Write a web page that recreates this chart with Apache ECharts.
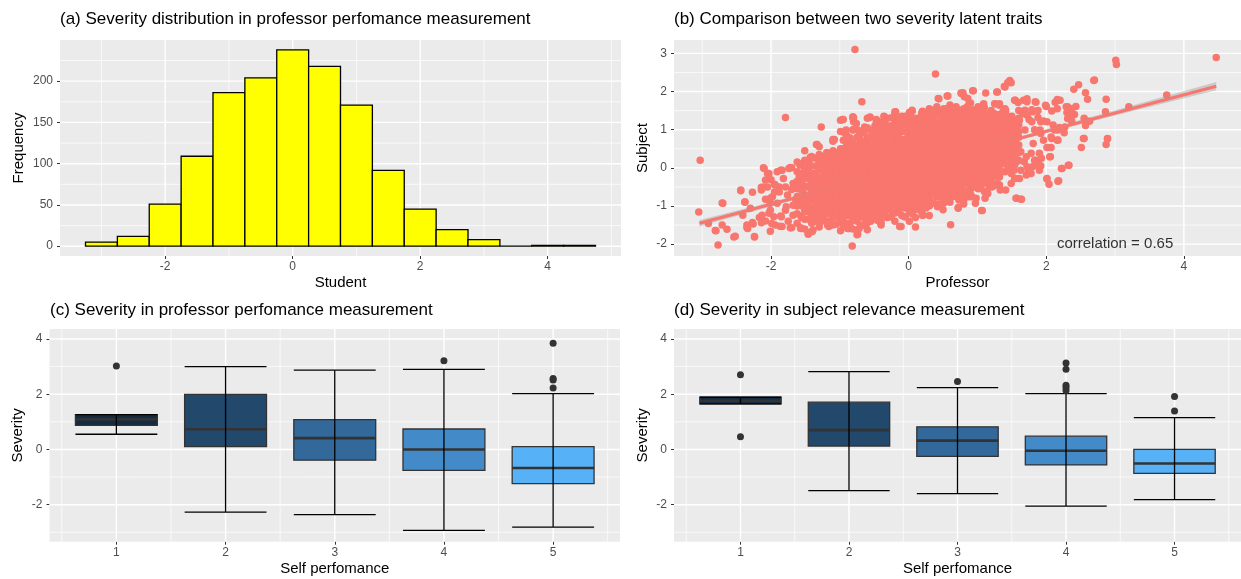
<!DOCTYPE html>
<html><head><meta charset="utf-8">
<script src="https://cdn.jsdelivr.net/npm/echarts@6/dist/echarts.min.js"></script>
<style>html,body{margin:0;padding:0;background:#fff}#c{width:1241px;height:579px}</style>
</head><body><div id="c"></div>
<script>
// ---------------- DATA ----------------
// (a) histogram
const histCenters = [-3,-2.5,-2,-1.5,-1,-0.5,0,0.5,1,1.5,2,2.5,3,3.5,4,4.5];
const histCounts  = [5,12,51,109,186,204,238,218,171,92,45,20,8,0,1,1];
const histBinWidth = 0.5;

// (b) scatter: professor (x) vs subject (y)
const scatterEdge = [
[-0.78,3.10],[-3.03,0.20],[-3.05,-1.16],[-2.77,-2.02],[-2.81,-1.64],[-2.91,-1.46],[-2.71,-0.92],[-2.64,-1.61],[-2.54,-1.81],[-2.44,-0.60],
[-2.38,-0.90],[-2.41,-1.24],[-2.35,-1.56],[-2.24,-1.81],[-2.27,-1.43],[-2.17,-1.30],[-2.01,-1.66],[-2.11,0],[-2.05,-0.15],[-1.79,1.32],
[-1.27,1.07],[-1.10,0.74],[-0.68,1.73],[-0.82,-2.05],[-0.75,-1.75],[-0.13,-1.54],[0.10,-1.55],[0.61,-1.49],[1.06,-1.12],[0.39,2.46],
[1.47,2.29],[1.49,2.23],[1.39,2.13],[3.01,2.82],[3.02,2.71],[4.47,2.89],[3.75,1.91],[2.69,2.29],[2.47,2.18],[2.40,2.06],
[2.57,1.97],[2.60,1.80],[2.87,1.80],[2.86,1.47],[3.20,1.60],[2.89,0.77],[2.87,0.61],[2.51,0.53],[2.54,0.77],[2.32,0.07],
[2.23,-0.02],[2.17,-0.35],[2.04,-0.43],[2.01,-0.29],[2.06,0.29],[1.64,-0.82],[1.57,-0.80],[1.54,-0.27],[2.27,1.07],[2.31,1.29],
[2.56,1.25],[2.43,1.61],[2.29,1.60],[2.16,1.79],[2.00,1.61],[1.84,1.73],[1.67,1.77],[1.55,1.77],[1.26,1.68],[1.29,1.99],
[1.12,1.96],[0.93,2.02],[0.79,1.97],[0.86,1.82],[0.56,1.88],[0.43,1.82],[0.51,1.55],[0.40,1.51],[0.20,1.48],[0.05,1.51],
[0.02,1.42],[-0.20,1.47],[-0.36,1.35],[-0.57,1.32],[-0.81,1.34],[-0.96,1.27],[-0.81,0.99],[-1.34,0.61],[-1.43,0.28],[-1.72,0.01],
[-1.84,-0.06],[-2.0,-0.31],[-2.05,-0.50],[-2.14,-0.58],[-2.01,-0.80],[-2.01,-1.11],[-1.94,-1.50],[-1.85,-1.28],[-1.72,-1.57],[-1.57,-1.59],
[-1.46,-1.70],[-1.39,-1.63],[-1.16,-1.54],[-0.87,-1.59],[-0.61,-1.46],[-0.41,-1.44],[-0.24,-1.15],[0.21,-1.24],[0.42,-1.02],[0.72,-1.06],
[0.80,-0.85],[1.15,-0.67],[1.32,-0.45],[1.32,-0.24],[1.53,-0.06],[1.72,0.03],[1.90,0.07],[1.84,0.20],[1.78,0.38],[2.07,0.53],
[2.01,0.53],[2.26,0.92],[2.17,0.99],[2.10,1.12],[1.91,0.99],[1.96,1.23],[1.80,1.47],[1.69,1.51],[1.75,1.27],[1.61,1.25],
[2.70,2.30],[2.55,1.30],[2.57,1.11],[2.63,1.22],[2.55,0.77],[2.89,0.76],[1.44,2.23],[1.40,2.12],[0.94,2.02],[1.28,1.99],
[0.76,1.96],[0.81,1.86],[0.88,1.68],[1.09,1.68],[1.25,1.68],[1.32,1.64],[1.54,1.77],[1.59,1.71],[1.72,1.81],[1.72,1.73],
[1.85,1.72],[1.99,1.64],[2.13,1.72],[2.20,1.77],[2.31,1.60],[2.37,1.55],[2.30,1.45],[2.38,1.38],[2.16,1.55],[2.08,1.49],
[1.88,1.50],[1.79,1.52],[1.66,1.42],[1.72,1.38],[1.37,1.47],[1.42,1.38],[1.54,1.25],[1.15,1.34],[1.27,1.29],[1.03,1.38],
[2.01,1.21],[2.12,0.99],[2.19,1.06],[2.37,1.22],[2.41,1.40],[1.79,1.21],[1.88,1.32],[1.92,1.21],[1.69,0.99],[1.83,1.00],
[1.92,0.90],[2.08,0.77],[2.17,0.73],[1.57,0.81],[1.44,0.94],[1.34,1.09],
[2.05,0.29],[2.33,0.07],[2.22,-0.02],[2.01,-0.28],[2.18,-0.34],[1.87,0.09],[1.92,0.05],[1.80,0.03],[1.74,-0.06],[1.68,0.16],
[1.58,0.17],[1.54,0.07],[1.55,-0.28],[1.71,-0.19],[1.63,-0.06],[1.56,-0.80],[1.63,-0.82],[1.44,0.25],[1.40,0.33],[1.37,0.16],
[1.46,0.0],[1.49,-0.15],[1.33,-0.58],[1.29,-0.41],[1.24,-0.47],[1.17,-0.50],[1.15,-0.37],[1.11,-0.80],[1.07,-1.12],[0.95,-0.45],
[0.91,-0.54],[0.86,-0.71],[0.80,-0.67],[0.73,-0.84],[0.72,-1.04],[0.98,-0.80],[0.88,-0.76],[0.71,-0.45],[0.76,-0.28],[1.22,-0.19],
[1.29,-0.10],[1.12,-0.02],[1.2,0.07],[1.08,0.25],[1.00,0.12],[0.95,-0.06],[0.86,-0.15],[1.54,0.33],[1.63,0.42],[1.71,0.29],
[1.83,0.20],[1.93,0.25],[1.29,0.42],[1.39,0.51],[1.49,0.46],
[-2.80,-1.65],[-2.71,-1.50],[-2.70,-0.93],[-2.52,-1.79],[-2.44,-0.58],[-2.38,-0.89],[-2.34,-1.59],[-2.24,-1.80],[-2.35,-1.50],[-2.27,-0.64],
[-2.30,-1.06],[-2.26,-1.47],[-2.14,-1.44],[-2.08,-1.39],[-2.13,-1.24],[-2.03,-1.19],[-2.14,-0.51],[-2.10,-0.50],[-2.08,-0.32],[-2.10,-0.02],
[-2.03,-0.15],[-2.08,-0.82],[-2.01,-0.93],[-1.98,-0.76],[-1.95,-0.43],[-1.88,-0.50],[-1.95,-0.63],[-1.91,-0.10],[-1.86,-0.06],[-1.82,-0.28],
[-1.74,-0.02],[-1.70,0.0],[-1.58,0.07],[-1.96,-1.28],[-1.99,-1.46],[-1.86,-1.26],[-1.87,-1.53],[-1.75,-1.40],[-1.70,-1.57],[-1.57,-1.57],
[-1.84,-1.54],[-1.46,-1.74],[-1.40,-1.67],[-1.68,-1.24],[-1.56,-1.26],[-1.47,-1.15],[-1.76,-0.71],[-1.64,-0.84],[-1.56,-0.96],[-1.78,-1.02],
[-1.67,-0.50],[-1.59,-0.50],[-1.47,-0.50],[-1.43,-0.28],[-1.42,0.25],[-1.45,0.07],[-1.37,-0.15],[-1.28,0.20],[-1.23,-0.02],[-1.13,0.23],
[-1.08,0.07],[-1.37,-0.71],[-1.33,-0.93],[-1.25,-1.15],[-1.28,-1.41],[-1.18,-1.50],[-1.13,-0.36],[-1.03,-0.54],[-1.08,-0.98],[-0.99,-1.15],
[-0.94,-1.50],[-0.89,-1.59],[-0.74,-1.74],[-0.72,-1.59],[-0.65,-1.50],[-0.79,-1.33],[-0.70,-1.19],[-0.50,-1.24],[-0.40,-1.41],[-0.11,-1.54],
[0.20,-1.24],[0.28,-0.93],[0.06,-1.15],[-0.02,-1.02],[-0.24,-1.11],[-0.21,-0.93],[0.75,-0.80],[0.51,-0.84],[0.61,-0.62],
[-0.99,0.33],[-1.10,0.20],[-1.22,0.24],[-1.33,0.03],[-1.51,-0.15],[-1.59,-0.24],[-1.68,-0.41],[-1.79,-0.50],[-1.88,-0.63],[-1.94,-0.45],
[-1.70,-0.57],[-0.91,0.99],[-0.76,1.16],[-0.64,1.07],[-0.47,1.20],[-0.41,0.99],[-0.18,1.25],[-0.06,1.12],[0.08,1.25],[0.22,1.34],
[0.34,1.2],[0.63,1.42],[0.74,1.51],[0.97,1.42],[1.21,1.38],[1.41,1.51],[1.32,1.68],[0.97,-0.93],[0.92,-0.76],[1.21,-0.50],
[1.41,-0.58],[1.49,-0.41],[1.61,-0.28],[1.78,-0.15],[1.90,-0.06],[1.90,0.38],[1.81,0.64],[1.96,0.72],[2.07,0.81],[2.16,0.72],
[-0.58,-1.28],[-0.47,-1.15],[-0.06,-1.28],[0.05,-1.11],[0.34,-0.93],[0.51,-0.93],[0.63,-0.76],[0.22,-0.76],[-0.99,-1.37],[-0.76,-1.24],
[-1.33,-1.28],[-1.56,-1.28],[-1.51,-1.11],[-1.68,-0.98],[-1.79,-1.11],[-1.91,-0.93],[-1.45,-0.85],[-1.22,-0.58],
[-1.33,0.61],[-1.08,0.74],[-0.95,1.27],[-0.80,1.31],[-0.80,1.21],[-0.92,0.90],[-0.89,0.65],[-0.74,0.99],[-0.72,0.83],[-0.56,1.33],
[-0.47,1.27],[-0.35,1.33],[-0.40,1.09],[-0.28,1.06],[-0.19,1.47],[-0.19,1.38],[-0.03,1.23],[0.05,1.48],[0.19,1.44],[0.18,1.32],
[0.33,1.34],[0.41,1.53],[0.44,1.81],[0.57,1.88],[0.51,1.51],[0.62,1.55],[0.77,1.94],[-0.50,0.90],[-0.40,0.94],[-0.28,0.86],
[-0.16,0.99],[-0.06,1.16],[0.04,0.94],[0.14,1.07],[0.28,1.12],[0.43,1.16],[0.57,1.25],[0.72,1.29],[-0.71,0.59],[-0.61,0.72],[-0.52,0.81]
];
// dense central cloud, read column by column
const coreX = [-1.62,-1.51,-1.41,-1.3,-1.19,-1.1,-0.99,-0.9,-0.81,-0.7,-0.6,-0.49,-0.4,-0.31,-0.2,-0.1,0.01,0.1,0.19,0.3,0.41,0.5,0.6,0.69,0.8,0.9,1.01,1.1,1.2,1.31,1.4,1.5,1.6];
const coreY = [
[-1.45,-1.2,-1.0,-0.75,-0.55,-0.35,-0.1,0.15],
[-1.6,-1.35,-1.1,-0.9,-0.7,-0.48,-0.25,-0.05,0.2,0.45],
[-1.45,-1.25,-1.05,-0.85,-0.62,-0.4,-0.2,0.05,0.3],
[-1.55,-1.3,-1.12,-0.95,-0.78,-0.6,-0.42,-0.25,-0.05,0.12,0.35,0.55],
[-1.4,-1.2,-1.02,-0.85,-0.68,-0.5,-0.32,-0.15,0.02,0.22,0.4],
[-1.5,-1.3,-1.12,-0.96,-0.8,-0.62,-0.45,-0.28,-0.1,0.08,0.25,0.45,0.7],
[-1.65,-1.38,-1.2,-1.02,-0.86,-0.7,-0.54,-0.38,-0.2,-0.04,0.12,0.3,0.5,0.95,1.25],
[-1.45,-1.25,-1.08,-0.92,-0.76,-0.6,-0.44,-0.28,-0.12,0.05,0.22,0.4,0.6,0.85],
[-1.6,-1.35,-1.16,-1.0,-0.84,-0.68,-0.52,-0.36,-0.2,-0.04,0.12,0.28,0.45,0.65,1.0,1.3],
[-1.5,-1.28,-1.1,-0.94,-0.78,-0.62,-0.46,-0.3,-0.14,0.02,0.18,0.34,0.5,0.7,0.92],
[-1.62,-1.4,-1.2,-1.02,-0.86,-0.7,-0.54,-0.38,-0.22,-0.06,0.1,0.26,0.42,0.6,0.8,1.05,1.3],
[-1.3,-1.12,-0.96,-0.8,-0.64,-0.48,-0.32,-0.16,0.0,0.16,0.32,0.48,0.66,0.85,1.1],
[-1.5,-1.25,-1.06,-0.9,-0.74,-0.58,-0.42,-0.26,-0.1,0.06,0.22,0.38,0.54,0.72,0.95,1.2],
[-1.3,-1.1,-0.94,-0.78,-0.62,-0.46,-0.3,-0.14,0.02,0.18,0.34,0.5,0.68,0.88,1.1,1.3],
[-1.4,-1.18,-1.0,-0.84,-0.68,-0.52,-0.36,-0.2,-0.04,0.12,0.28,0.44,0.6,0.78,1.0,1.2,1.42],
[-1.25,-1.05,-0.88,-0.72,-0.56,-0.4,-0.24,-0.08,0.08,0.24,0.4,0.56,0.74,0.95,1.15,1.35],
[-1.4,-1.15,-0.95,-0.78,-0.62,-0.46,-0.3,-0.14,0.02,0.18,0.34,0.5,0.66,0.84,1.05,1.25,1.45],
[-1.3,-1.05,-0.85,-0.68,-0.52,-0.36,-0.2,-0.04,0.12,0.28,0.44,0.6,0.76,0.94,1.12,1.3],
[-1.15,-0.95,-0.78,-0.62,-0.46,-0.3,-0.14,0.02,0.18,0.34,0.5,0.66,0.82,1.0,1.2,1.4],
[-1.25,-1.0,-0.8,-0.64,-0.48,-0.32,-0.16,0.0,0.16,0.32,0.48,0.64,0.8,0.98,1.15,1.35,1.55],
[-0.95,-0.75,-0.58,-0.42,-0.26,-0.1,0.06,0.22,0.38,0.54,0.7,0.86,1.02,1.2,1.4,1.6],
[-1.1,-0.85,-0.66,-0.5,-0.34,-0.18,-0.02,0.14,0.3,0.46,0.62,0.78,0.94,1.1,1.28,1.48],
[-0.9,-0.7,-0.52,-0.36,-0.2,-0.04,0.12,0.28,0.44,0.6,0.76,0.92,1.08,1.25,1.45,1.65],
[-0.75,-0.55,-0.38,-0.22,-0.06,0.1,0.26,0.42,0.58,0.74,0.9,1.06,1.22,1.4,1.6],
[-0.95,-0.6,-0.42,-0.26,-0.1,0.06,0.22,0.38,0.54,0.7,0.86,1.02,1.18,1.36,1.55],
[-0.7,-0.48,-0.3,-0.14,0.02,0.18,0.34,0.5,0.66,0.82,0.98,1.14,1.3,1.48,1.7],
[-0.55,-0.36,-0.18,-0.02,0.14,0.3,0.46,0.62,0.78,0.94,1.1,1.26,1.42,1.6],
[-0.62,-0.4,-0.22,-0.05,0.12,0.28,0.44,0.6,0.76,0.92,1.08,1.24,1.4,1.58],
[-0.3,-0.12,0.05,0.22,0.38,0.54,0.7,0.86,1.02,1.18,1.34,1.5],
[-0.2,0.0,0.2,0.38,0.55,0.72,0.88,1.05,1.22,1.4],
[-0.1,0.1,0.3,0.48,0.65,0.82,1.0,1.18,1.35,1.55],
[0.05,0.25,0.45,0.62,0.8,0.98,1.15,1.35],
[0.2,0.4,0.6,0.8,0.95,1.12,1.3,1.5]
];
// second pass over the dense cloud, read between the columns above
const coreX2 = [-1.55,-1.45,-1.35,-1.25,-1.15,-1.05,-0.95,-0.85,-0.75,-0.65,-0.55,-0.45,-0.35,-0.25,-0.15,-0.05,0.05,0.15,0.25,0.35,0.45,0.55,0.65,0.75,0.85,0.95,1.05,1.15,1.25,1.35,1.45,1.55];
const coreY2 = [
[-1.3,-1.0,-0.8,-0.6,-0.37,-0.15,0.1],
[-1.35,-1.15,-0.95,-0.73,-0.5,-0.3,-0.08,0.18],
[-1.4,-1.2,-1.03,-0.86,-0.69,-0.51,-0.33,-0.15,0.05,0.25],
[-1.3,-1.11,-0.93,-0.76,-0.59,-0.41,-0.23,-0.06,0.12,0.3],
[-1.4,-1.21,-1.04,-0.88,-0.71,-0.53,-0.36,-0.19,-0.01,0.16,0.35],
[-1.48,-1.29,-1.11,-0.94,-0.78,-0.62,-0.46,-0.29,-0.12,0.04,0.21,0.4],
[-1.5,-1.3,-1.14,-1.0,-0.84,-0.68,-0.52,-0.36,-0.2,-0.04,0.13,0.31,0.5,0.72],
[-1.45,-1.26,-1.08,-0.92,-0.76,-0.6,-0.44,-0.28,-0.12,0.04,0.2,0.36,0.54,0.78],
[-1.4,-1.19,-1.02,-0.86,-0.7,-0.54,-0.38,-0.22,-0.06,0.1,0.26,0.42,0.6,0.8],
[-1.5,-1.3,-1.11,-0.94,-0.78,-0.62,-0.46,-0.3,-0.14,0.02,0.18,0.34,0.51,0.7,0.92],
[-1.4,-1.21,-1.04,-0.88,-0.72,-0.56,-0.4,-0.24,-0.08,0.08,0.24,0.4,0.57,0.76,0.98],
[-1.38,-1.16,-0.98,-0.82,-0.66,-0.5,-0.34,-0.18,-0.02,0.14,0.3,0.46,0.63,0.83,1.05],
[-1.2,-1.02,-0.86,-0.7,-0.54,-0.38,-0.22,-0.06,0.1,0.26,0.42,0.59,0.78,0.99,1.2],
[-1.29,-1.09,-0.92,-0.76,-0.6,-0.44,-0.28,-0.12,0.04,0.2,0.36,0.52,0.69,0.89,1.1,1.31],
[-1.15,-0.96,-0.8,-0.64,-0.48,-0.32,-0.16,0.0,0.16,0.32,0.48,0.65,0.84,1.05,1.25],
[-1.28,-1.05,-0.87,-0.7,-0.54,-0.38,-0.22,-0.06,0.1,0.26,0.42,0.58,0.75,0.94,1.15,1.35],
[-1.2,-0.95,-0.77,-0.6,-0.44,-0.28,-0.12,0.04,0.2,0.36,0.52,0.68,0.85,1.03,1.21],
[-1.1,-0.9,-0.7,-0.54,-0.38,-0.22,-0.06,0.1,0.26,0.42,0.58,0.74,0.91,1.1,1.3],
[-1.05,-0.87,-0.7,-0.54,-0.38,-0.22,-0.06,0.1,0.26,0.42,0.58,0.74,0.9,1.08,1.26,1.45],
[-0.9,-0.7,-0.5,-0.34,-0.18,-0.02,0.14,0.3,0.46,0.62,0.78,0.94,1.1,1.3,1.5],
[-0.95,-0.75,-0.58,-0.42,-0.26,-0.1,0.06,0.22,0.38,0.54,0.7,0.86,1.02,1.2,1.38],
[-0.8,-0.6,-0.43,-0.27,-0.11,0.05,0.21,0.37,0.53,0.69,0.85,1.01,1.18,1.36,1.55],
[-0.65,-0.46,-0.3,-0.14,0.02,0.18,0.34,0.5,0.66,0.82,0.98,1.14,1.32,1.52],
[-0.68,-0.5,-0.34,-0.18,-0.02,0.14,0.3,0.46,0.62,0.78,0.94,1.1,1.28,1.47],
[-0.6,-0.4,-0.22,-0.06,0.1,0.26,0.42,0.58,0.74,0.9,1.06,1.22,1.4,1.6],
[-0.45,-0.27,-0.1,0.06,0.22,0.38,0.54,0.7,0.86,1.02,1.18,1.34,1.52],
[-0.48,-0.3,-0.13,0.04,0.2,0.36,0.52,0.68,0.84,1.0,1.16,1.32,1.5],
[-0.2,-0.03,0.14,0.3,0.46,0.62,0.78,0.94,1.1,1.26,1.42],
[-0.22,-0.04,0.13,0.3,0.46,0.62,0.78,0.94,1.1,1.26,1.42],
[-0.1,0.1,0.29,0.46,0.63,0.8,0.96,1.13,1.3],
[0.0,0.2,0.39,0.56,0.73,0.9,1.08,1.26],
[0.15,0.35,0.53,0.7,0.88,1.05,1.22]
];
// fitted linear trend with its confidence band
const fitLine = [[-3.04,-1.45],[4.47,2.14]];
const bandX  = [-3.04,-2,-1,0,1,2,3,4.47];
const bandLo = [-1.535,-1.012,-0.513,-0.024,0.45,0.913,1.372,2.03];
const bandHi = [-1.365,-0.892,-0.433,0.036,0.52,1.013,1.512,2.25];
const corrLabel = 'correlation = 0.65';
const corrPos = [3,-2];

// (c)/(d) boxplots by self performance: [lowWhisker, Q1, median, Q3, highWhisker]
const boxGroups = [1,2,3,4,5];
const profStats = [[0.55,0.87,1.09,1.26,1.26],[-2.27,0.10,0.73,1.99,3.00],[-2.36,-0.39,0.41,1.08,2.87],[-2.93,-0.76,0.00,0.74,2.90],[-2.81,-1.24,-0.67,0.10,2.02]];
const profOutliers = [[1,3.02],[4,3.21],[5,3.84],[5,2.57],[5,2.51],[5,2.22]];
const subjStats = [[1.65,1.65,1.76,1.89,1.89],[-1.49,0.12,0.70,1.71,2.82],[-1.60,-0.25,0.32,0.82,2.24],[-2.05,-0.56,-0.05,0.48,2.02],[-1.82,-0.87,-0.51,0.00,1.15]];
const subjOutliers = [[1,2.70],[1,0.46],[3,2.46],[4,3.13],[4,2.90],[4,2.32],[4,2.24],[4,2.13],[5,1.92],[5,1.39]];
const boxColors = ['#132B43','#22486B','#32699A','#438AC8','#56B1F7'];

// axis ticks
const aXTicks = [-2,0,2,4], aXMinor = [-3,-1,1,3,5];
const aYTicks = [0,50,100,150,200], aYMinor = [25,75,125,175,225];
const bXTicks = [-2,0,2,4], bXMinor = [-3,-1,1,3];
const bYTicks = [-2,-1,0,1,2,3], bYMinor = [-1.5,-0.5,0.5,1.5,2.5];
const cXTicks = [1,2,3,4,5], cXMinor = [0.5,1.5,2.5,3.5,4.5,5.5];
const cYTicks = [-2,0,2,4], cYMinor = [-3,-1,1,3];

// ---------------- CHART ----------------
const FONT = '"Liberation Sans", Arial, Helvetica, sans-serif';
const ranges = [
  {x:[-3.65,5.15], y:[-11.9,249.9]},
  {x:[-3.41,4.83], y:[-2.31,3.35]},
  {x:[0.3875,5.6125], y:[-3.34,4.36]},
  {x:[0.3875,5.6125], y:[-3.34,4.36]}
];
const scatterData = scatterEdge.slice();
coreX.forEach((x,i)=>coreY[i].forEach(y=>scatterData.push([x,y])));
coreX2.forEach((x,i)=>coreY2[i].forEach(y=>scatterData.push([x,y])));

function axis(gi, r, ticks, name, gap, isY) {
  return {
    type:'value', gridIndex:gi, min:r[0], max:r[1], name, nameLocation:'middle', nameGap:gap,
    nameTextStyle:{color:'#000', fontSize:15, fontFamily:FONT},
    axisLine:{show:false, onZero:false}, splitLine:{show:false},
    axisTick:{show:true, customValues:ticks, length:3, lineStyle:{color:'#333', width:1}},
    axisLabel:{customValues:ticks, color:'#4D4D4D', fontSize:12, margin:isY?7:5, fontFamily:FONT}
  };
}
function gridLines(gi, xMaj, xMin, yMaj, yMin) {
  const r = ranges[gi];
  const lines = [];
  xMin.forEach(v=>lines.push({d:'x',v,w:0.7}));
  yMin.forEach(v=>lines.push({d:'y',v,w:0.7}));
  xMaj.forEach(v=>lines.push({d:'x',v,w:1.4}));
  yMaj.forEach(v=>lines.push({d:'y',v,w:1.4}));
  return {
    type:'custom', xAxisIndex:gi, yAxisIndex:gi, z:1, silent:true,
    data: lines.map(()=>[r.x[0], r.y[0]]),
    renderItem:(p, api)=>{
      const l = lines[p.dataIndex];
      const p1 = l.d==='x' ? api.coord([l.v, r.y[0]]) : api.coord([r.x[0], l.v]);
      const p2 = l.d==='x' ? api.coord([l.v, r.y[1]]) : api.coord([r.x[1], l.v]);
      return {type:'line', shape:{x1:p1[0],y1:p1[1],x2:p2[0],y2:p2[1]}, style:{stroke:'#fff', lineWidth:l.w}};
    }
  };
}
function boxSeries(gi, stats) {
  return {
    type:'custom', xAxisIndex:gi, yAxisIndex:gi, z:3, silent:true,
    dimensions:['x','lo','q1','med','q3','hi'],
    encode:{x:0, y:[1,2,3,4,5]},
    data: stats.map((s,i)=>[boxGroups[i]].concat(s)),
    renderItem:(p, api)=>{
      const x = api.value(0), hw = 0.375;
      const lo=api.value(1), q1=api.value(2), med=api.value(3), q3=api.value(4), hi=api.value(5);
      const a = api.coord([x-hw, q3]), b = api.coord([x+hw, q1]);
      const m1 = api.coord([x-hw, med]), m2 = api.coord([x+hw, med]);
      const c = api.coord([x, lo]), d = api.coord([x, hi]);
      const l1 = api.coord([x-hw, lo]), l2 = api.coord([x+hw, lo]);
      const h1 = api.coord([x-hw, hi]), h2 = api.coord([x+hw, hi]);
      return {type:'group', children:[
        {type:'rect', shape:{x:a[0], y:a[1], width:b[0]-a[0], height:b[1]-a[1]}, style:{fill:boxColors[p.dataIndex], stroke:'#333', lineWidth:1.3}},
        {type:'line', shape:{x1:m1[0],y1:m1[1],x2:m2[0],y2:m2[1]}, style:{stroke:'#333', lineWidth:2.6}},
        {type:'line', shape:{x1:c[0],y1:c[1],x2:d[0],y2:d[1]}, style:{stroke:'#000', lineWidth:1.3}},
        {type:'line', shape:{x1:l1[0],y1:l1[1],x2:l2[0],y2:l2[1]}, style:{stroke:'#000', lineWidth:1.3}},
        {type:'line', shape:{x1:h1[0],y1:h1[1],x2:h2[0],y2:h2[1]}, style:{stroke:'#000', lineWidth:1.3}}
      ]};
    }
  };
}
const titleStyle = {fontSize:17, fontWeight:'normal', color:'#000', fontFamily:FONT};

const option = {
  animation:false,
  backgroundColor:'#fff',
  title:[
    {text:'(a) Severity distribution in professor perfomance measurement', left:60, top:11, padding:0, textStyle:titleStyle},
    {text:'(b) Comparison between two severity latent traits', left:674, top:11, padding:0, textStyle:titleStyle},
    {text:'(c) Severity in professor perfomance measurement', left:50, top:302, padding:0, textStyle:titleStyle},
    {text:'(d) Severity in subject relevance measurement', left:674, top:302, padding:0, textStyle:titleStyle}
  ],
  grid:[
    {left:60, top:40, width:561, height:216, show:true, backgroundColor:'#EBEBEB', borderWidth:0},
    {left:674, top:40, width:567, height:216, show:true, backgroundColor:'#EBEBEB', borderWidth:0},
    {left:49.5, top:329, width:570.5, height:212.7, show:true, backgroundColor:'#EBEBEB', borderWidth:0},
    {left:674, top:329, width:567, height:212.7, show:true, backgroundColor:'#EBEBEB', borderWidth:0}
  ],
  xAxis:[
    axis(0, ranges[0].x, aXTicks, 'Student', 19, false),
    axis(1, ranges[1].x, bXTicks, 'Professor', 19, false),
    axis(2, ranges[2].x, cXTicks, 'Self perfomance', 20, false),
    axis(3, ranges[3].x, cXTicks, 'Self perfomance', 20, false)
  ],
  yAxis:[
    axis(0, ranges[0].y, aYTicks, 'Frequency', 34, true),
    axis(1, ranges[1].y, bYTicks, 'Subject', 24, true),
    axis(2, ranges[2].y, cYTicks, 'Severity', 24, true),
    axis(3, ranges[3].y, cYTicks, 'Severity', 24, true)
  ],
  series:[
    gridLines(0, aXTicks, aXMinor, aYTicks, aYMinor),
    gridLines(1, bXTicks, bXMinor, bYTicks, bYMinor),
    gridLines(2, cXTicks, cXMinor, cYTicks, cYMinor),
    gridLines(3, cXTicks, cXMinor, cYTicks, cYMinor),
    {
      type:'custom', xAxisIndex:0, yAxisIndex:0, z:3, silent:true,
      data: histCenters.map((c,i)=>[c, histCounts[i]]),
      renderItem:(p, api)=>{
        const c = api.value(0), n = api.value(1);
        const a = api.coord([c-histBinWidth/2, n]), b = api.coord([c+histBinWidth/2, 0]);
        return {type:'rect', shape:{x:a[0], y:a[1], width:b[0]-a[0], height:b[1]-a[1]}, style:{fill:'#FFFF00', stroke:'#000', lineWidth:1.3}};
      }
    },
    {
      type:'scatter', xAxisIndex:1, yAxisIndex:1, z:3, silent:true, symbolSize:7.5,
      itemStyle:{color:'#F8766D', opacity:1}, data:scatterData, large:false
    },
    {
      type:'custom', xAxisIndex:1, yAxisIndex:1, z:8, silent:true,
      data:[[bandX[0], bandLo[0]]],
      renderItem:(p, api)=>{
        const pts = bandX.map((x,i)=>api.coord([x, bandHi[i]]));
        for (let i=bandX.length-1;i>=0;i--) pts.push(api.coord([bandX[i], bandLo[i]]));
        const s = api.coord(fitLine[0]), e = api.coord(fitLine[1]);
        return {type:'group', children:[
          {type:'polygon', shape:{points:pts}, style:{fill:'rgba(153,153,153,0.4)'}},
          {type:'line', shape:{x1:s[0],y1:s[1],x2:e[0],y2:e[1]}, style:{stroke:'#F8766D', lineWidth:3}}
        ]};
      }
    },
    {
      type:'scatter', xAxisIndex:1, yAxisIndex:1, z:9, silent:true, symbolSize:1,
      itemStyle:{color:'rgba(0,0,0,0)'}, data:[corrPos],
      label:{show:true, position:'inside', formatter:corrLabel, color:'#000', fontSize:15, fontFamily:FONT}
    },
    boxSeries(2, profStats),
    boxSeries(3, subjStats),
    {type:'scatter', xAxisIndex:2, yAxisIndex:2, z:6, silent:true, symbolSize:7, itemStyle:{color:'#333', opacity:1}, data:profOutliers},
    {type:'scatter', xAxisIndex:3, yAxisIndex:3, z:6, silent:true, symbolSize:7, itemStyle:{color:'#333', opacity:1}, data:subjOutliers}
  ]
};
const chart = echarts.init(document.getElementById('c'), null, {renderer:'canvas'});
chart.setOption(option);
</script>
</body></html>
